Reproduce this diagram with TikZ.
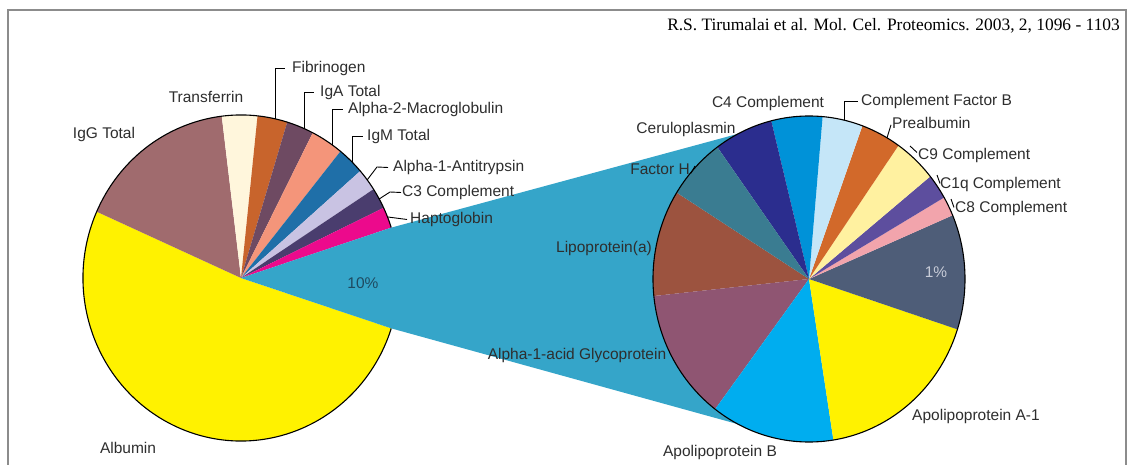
\documentclass[tikz,border=0pt]{standalone}
\usepackage{fontspec}
\setmainfont{Liberation Sans}
\newfontfamily\citefont{Liberation Serif}
\usetikzlibrary{calc}

\definecolor{albumincol}{HTML}{FFF200}
\definecolor{iggcol}{HTML}{A06B6E}
\definecolor{transfcol}{HTML}{FFF6DC}
\definecolor{fibrcol}{HTML}{C8642C}
\definecolor{igacol}{HTML}{6E4A62}
\definecolor{atwocol}{HTML}{F4957A}
\definecolor{igmcol}{HTML}{1F6FA8}
\definecolor{aonecol}{HTML}{C9C3E3}
\definecolor{cthreecol}{HTML}{4A3D6E}
\definecolor{haptocol}{HTML}{EC0A8C}
\definecolor{wedgecol}{HTML}{35A5C9}
\definecolor{lpacol}{HTML}{9C533F}
\definecolor{aagpcol}{HTML}{8F5572}
\definecolor{apobcol}{HTML}{00ADEF}
\definecolor{apoacol}{HTML}{FFF200}
\definecolor{slatecol}{HTML}{4E5D78}
\definecolor{ceightcol}{HTML}{F2A4AC}
\definecolor{conqcol}{HTML}{5D4E9E}
\definecolor{cninecol}{HTML}{FFF1A0}
\definecolor{prealbcol}{HTML}{D2692A}
\definecolor{cfbcol}{HTML}{C5E6F8}
\definecolor{cfourcol}{HTML}{0092D8}
\definecolor{cerulocol}{HTML}{2B2D8E}
\definecolor{facthcol}{HTML}{3A7C91}
\definecolor{labelcol}{HTML}{2E2E2E}
\definecolor{framecol}{HTML}{8C8C8C}
\definecolor{tenpctcol}{HTML}{1E4A60}
\definecolor{onepctcol}{HTML}{C8CCD8}

% left pie: centre L, radii 158 x 163
\newcommand{\lslice}[3]{\fill[#3] (L) -- ($(L)+(#1:158 and 163)$) arc[start angle=#1, end angle=#2, x radius=158, y radius=163] -- cycle;}
% right pie: centre R, radii 156 x 163
\newcommand{\rslice}[3]{\fill[#3] (R) -- ($(R)+(#1:156 and 163)$) arc[start angle=#1, end angle=#2, x radius=156, y radius=163] -- cycle;}

\begin{document}
\begin{tikzpicture}[x=1pt,y=1pt,
  lbl/.style={font=\fontsize{15.5}{17}\selectfont, text=labelcol, inner sep=0pt},
  leader/.style={draw=black, line width=0.9pt},
  outline/.style={draw=black, line width=1.1pt}]
\useasboundingbox (0,0) rectangle (1128,-465);
\fill[white] (0,0) rectangle (1128,-465);
\draw[framecol, line width=2pt] (8,-470) -- (8,-10) -- (1126,-10) -- (1126,-470);

\coordinate (L) at (241,-278);
\coordinate (R) at (809,-279);

% ---- left pie ----
\lslice{156}{342}{albumincol}
\lslice{97}{156}{iggcol}
\lslice{84}{97}{transfcol}
\lslice{73}{84}{fibrcol}
\lslice{63}{73}{igacol}
\lslice{51}{63}{atwocol}
\lslice{41}{51}{igmcol}
\lslice{33}{41}{aonecol}
\lslice{25.5}{33}{cthreecol}
\lslice{18}{25.5}{haptocol}
\draw[outline] ($(L)+(18:158 and 163)$) arc[start angle=18, end angle=342, x radius=158, y radius=163];

% ---- blue wedge (10%) ----
\fill[wedgecol] (L) -- ($(L)+(18:158 and 163)$) -- ($(R)+(117:156 and 163)$)
  arc[start angle=117, end angle=243, x radius=156, y radius=163]
  -- ($(L)+(-18:158 and 163)$) -- cycle;

% ---- right pie ----
\rslice{148}{186}{lpacol}
\rslice{186}{233}{aagpcol}
\rslice{233}{279}{apobcol}
\rslice{279}{342}{apoacol}
\rslice{342}{383}{slatecol}
\rslice{23}{30}{ceightcol}
\rslice{30}{39}{conqcol}
\rslice{39}{55}{cninecol}
\rslice{55}{70}{prealbcol}
\rslice{70}{85}{cfbcol}
\rslice{85}{104}{cfourcol}
\rslice{104}{126}{cerulocol}
\rslice{126}{148}{facthcol}
\draw[outline] (R) ellipse [x radius=156, y radius=163];

% ---- citation ----
\node[inner sep=0pt, anchor=base east, font=\citefont\fontsize{17.4}{19}\selectfont, text=black] (cite) at (1120,-30.6) {R.S. Tirumalai et al. Mol. Cel. Proteomics. 2003, 2, 1096 - 1103};

% ---- left labels ----
\node[lbl, anchor=base] (transferrin) at (206,-102.5) {Transferrin};
\node[lbl, anchor=base] (igg) at (104,-138.5) {IgG Total};
\node[lbl, anchor=base] (albumin) at (128,-453.5) {Albumin};
\node[lbl, anchor=base, text=tenpctcol] (pcten) at (363,-288.5) {10\%};
\node[lbl, anchor=base west] (fib) at (292,-72.5) {Fibrinogen};
\node[lbl, anchor=base west] (iga) at (320,-96.5) {IgA Total};
\node[lbl, anchor=base west] (atwo) at (348,-113.5) {Alpha-2-Macroglobulin};
\node[lbl, anchor=base west] (igm) at (367,-140.5) {IgM Total};
\node[lbl, anchor=base west] (aone) at (393,-171.5) {Alpha-1-Antitrypsin};
\node[lbl, anchor=base west] (cthree) at (402,-196.5) {C3 Complement};
\node[lbl, anchor=base west] (hapto) at (410,-223.5) {Haptoglobin};

\coordinate (fibE) at ($(L)+(77.5:158 and 163)$);
\coordinate (igaE) at ($(L)+(66.5:158 and 163)$);
\coordinate (atwoE) at ($(L)+(54.8:158 and 163)$);
\coordinate (igmE) at ($(L)+(45:158 and 163)$);
\coordinate (aoneE) at ($(L)+(37:158 and 163)$);
\coordinate (aoneB) at (377,-167);
\coordinate (cthreeE) at ($(L)+(29:158 and 163)$);
\coordinate (cthreeB) at (390,-192);
\coordinate (haptoE) at ($(L)+(22:158 and 163)$);

\draw[leader] (fibE) |- ([xshift=-7pt]fib.west);
\draw[leader] (igaE) |- ([xshift=-6pt]iga.west);
\draw[leader] (atwoE) |- ([xshift=-5pt]atwo.west);
\draw[leader] (igmE) |- ([xshift=-4pt]igm.west);
\draw[leader] (aoneE) -- (aoneB) -- ([xshift=-5pt]aone.west);
\draw[leader] (cthreeE) -- (cthreeB) -- ([xshift=-1pt]cthree.west);
\draw[leader] (haptoE) -- ([xshift=-3pt]hapto.west);

% ---- right labels ----
\node[lbl, anchor=base] (cfour) at (768,-107.5) {C4 Complement};
\node[lbl, anchor=base] (cerulo) at (686,-133.5) {Ceruloplasmin};
\node[lbl, anchor=base] (facth) at (660,-174.5) {Factor H};
\node[lbl, anchor=base] (lpa) at (604,-252.5) {Lipoprotein(a)};
\node[lbl, anchor=base] (aagp) at (577,-359.5) {Alpha-1-acid Glycoprotein};
\node[lbl, anchor=base] (apob) at (720,-456.5) {Apolipoprotein B};
\node[lbl, anchor=base] (apoa) at (976,-420.5) {Apolipoprotein A-1};
\node[lbl, anchor=base, text=onepctcol] (pctone) at (936,-277.5) {1\%};
\node[lbl, anchor=base west] (cfb) at (861,-105.5) {Complement Factor B};
\node[lbl, anchor=base west] (prealb) at (892,-128.5) {Prealbumin};
\node[lbl, anchor=base west] (cnine) at (918,-159.5) {C9 Complement};
\node[lbl, anchor=base west] (conq) at (940,-188.5) {C1q Complement};
\node[lbl, anchor=base west] (ceight) at (955,-212.5) {C8 Complement};

\coordinate (cfbE) at ($(R)+(76.7:156 and 163)$);
\coordinate (prealbE) at ($(R)+(60:156 and 163)$);
\coordinate (cnineE) at (910,-146);
\coordinate (conqE) at (937,-175);
\coordinate (ceightE) at (951,-199);
\coordinate (facthE) at (695,-166);

\draw[leader] (cfbE) |- ([xshift=-3pt]cfb.west);
\draw[leader] (prealbE) -- ([xshift=-1pt,yshift=4pt]prealb.south west);
\draw[leader] (cnineE) -- ([xshift=-1pt,yshift=3pt]cnine.west);
\draw[leader] (conqE) -- ([xshift=0pt,yshift=1pt]conq.west);
\draw[leader] (ceightE) -- ([xshift=-1pt,yshift=1pt]ceight.west);
\draw[leader] ([xshift=1pt,yshift=-4pt]facth.east) -- (facthE);
\end{tikzpicture}
\end{document}
